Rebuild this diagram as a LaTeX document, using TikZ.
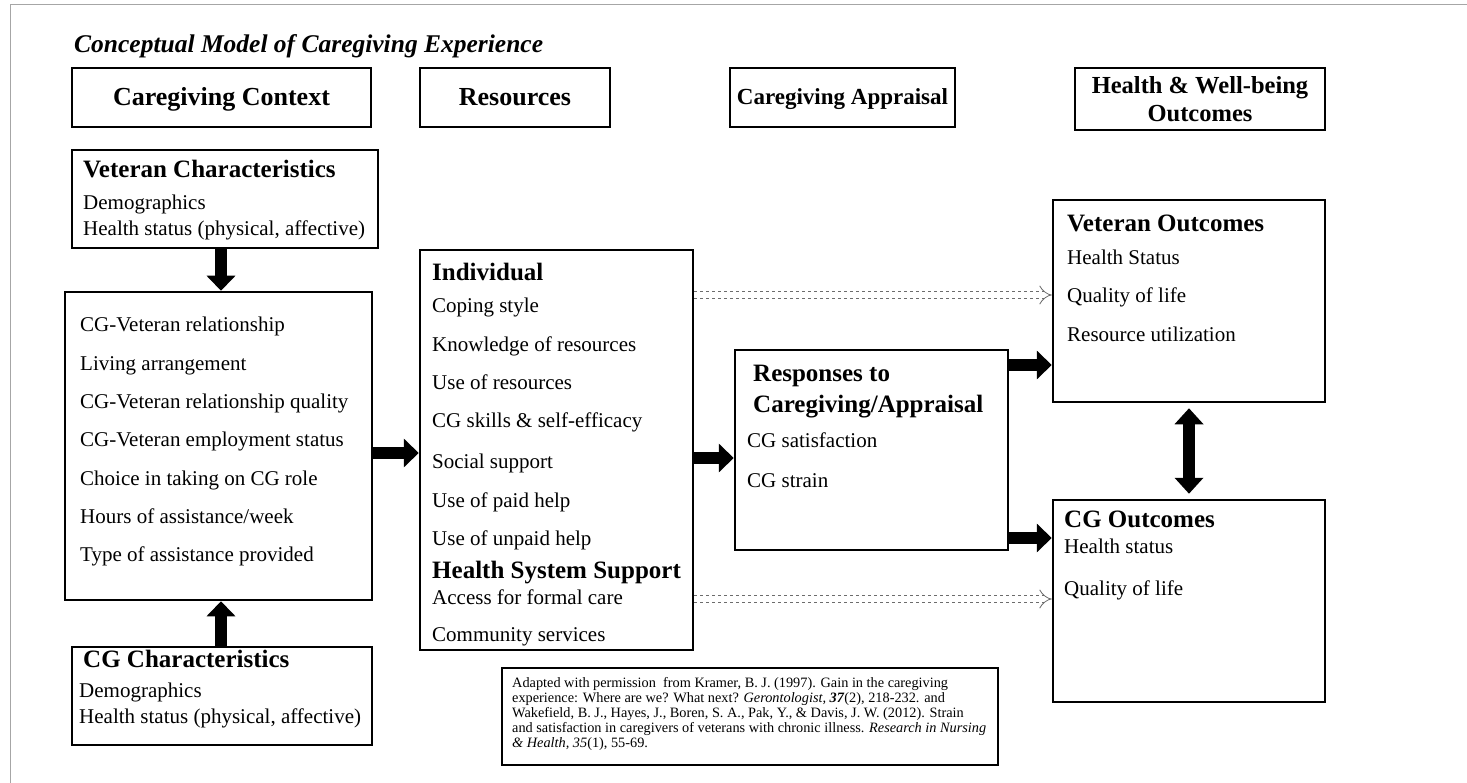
\documentclass[tikz,border=0pt]{standalone}
\usepackage{fontspec}
\setmainfont{Liberation Serif}
\usetikzlibrary{arrows.meta,positioning}

\begin{document}
\begin{tikzpicture}[x=1pt,y=-1pt,
  box/.style={draw,line width=2.5pt,inner sep=0pt},
  hdr/.style={box,font=\fontsize{26}{29}\selectfont\bfseries,align=center},
  sub/.style={anchor=west,inner sep=0pt,text height=17pt,text depth=5pt,
    font=\fontsize{25}{28}\selectfont\bfseries},
  item/.style={anchor=west,inner sep=0pt,text height=14pt,text depth=4pt,
    font=\fontsize{21}{24}\selectfont},
  blk/.style={line width=12pt,-{Triangle[width=28pt,length=15pt]}},
  dblk/.style={line width=12pt,{Triangle[width=28pt,length=16pt]}-{Triangle[width=28pt,length=16pt]}},
  dsh/.style={gray!85!black,dashed,double,double distance=6pt,line width=0.8pt,-{Implies}}]
  \useasboundingbox (0,0) rectangle (1467,783);
  \draw[gray!70,line width=1pt] (10,783) -- (10,5) -- (1467,5);
  \node[anchor=west,inner sep=0pt,font=\fontsize{25.5}{28}\selectfont\bfseries\itshape] (title)
    at (74,46) {Conceptual Model of Caregiving Experience};
  % column headers
  \node[hdr,minimum width=299pt,minimum height=59pt,text depth=2pt] (hctx) at (221.5,97.5) {Caregiving Context};
  \node[hdr,minimum width=190pt,minimum height=59pt,text depth=2pt] (hres) at (515,97.5) {Resources};
  \node[hdr,minimum width=225pt,minimum height=59pt,text depth=2pt,font=\fontsize{23}{26}\selectfont\bfseries] (happ)
    at (842.5,97.5) {Caregiving Appraisal};
  \node[hdr,minimum width=250pt,minimum height=62pt,font=\fontsize{24.5}{28}\selectfont\bfseries] (hout)
    at (1200,99) {Health \& Well-being\\Outcomes};
  % caregiving context
  \node[box,minimum width=306pt,minimum height=98pt] (vchar) at (225,199) {};
  \node[sub] (vcharT) at (83,172) {Veteran Characteristics};
  \node[item] (vchar1) at (83,205) {Demographics};
  \node[item] (vchar2) at (83,231) {Health status (physical, affective)};
  \node[box,minimum width=307pt,minimum height=308pt] (ctx) at (218.5,446) {};
  \foreach \t [count=\i] in {CG-Veteran relationship,Living arrangement,
      CG-Veteran relationship quality,CG-Veteran employment  status,
      Choice in taking on CG role,Hours of assistance/week,Type of assistance provided}
    \node[item] (ctx\i) at (80,{327+38.3*(\i-1)}) {\t};
  \node[box,minimum width=300pt,minimum height=98pt] (cgchar) at (222,696) {};
  \node[sub] (cgcharT) at (83,661) {CG Characteristics};
  \node[item] (cgchar1) at (79,692) {Demographics};
  \node[item] (cgchar2) at (79,718) {Health status (physical, affective)};
  % resources
  \node[box,minimum width=273pt,minimum height=400pt] (res) at (556.5,450) {};
  \node[sub] (resA) at (432,275) {Individual};
  \foreach \t/\y [count=\i] in {Coping style/308,Knowledge of resources/347,Use of resources/385,
      CG skills \& self-efficacy/423,Social support/463,Use of paid help/502,Use of unpaid help/540}
    \node[item] (resA\i) at (432,\y) {\t};
  \node[sub] (resB) at (432,572) {Health System Support};
  \node[item] (resB1) at (432,599) {Access for formal care};
  \node[item] (resB2) at (432,636) {Community  services};
  % appraisal
  \node[box,minimum width=273pt,minimum height=200pt] (resp) at (871.5,450) {};
  \node[sub] (respT) at (753,376) {Responses to};
  \node[sub] (respT2) at (753,406) {Caregiving/Appraisal};
  \node[item] (resp1) at (747,442) {CG satisfaction};
  \node[item] (resp2) at (747,482) {CG strain};
  % outcomes
  \node[box,minimum width=272pt,minimum height=202pt] (vout) at (1189,301) {};
  \node[sub] (voutT) at (1067,226) {Veteran Outcomes};
  \node[item] (vout1) at (1067,260) {Health Status};
  \node[item] (vout2) at (1067,298) {Quality of life};
  \node[item] (vout3) at (1067,337) {Resource utilization};
  \node[box,minimum width=272pt,minimum height=202pt] (cgout) at (1189,601) {};
  \node[sub] (cgoutT) at (1064,521) {CG Outcomes};
  \node[item] (cgout1) at (1064,548) {Health status};
  \node[item] (cgout2) at (1064,590) {Quality of life};
  % source
  \node[box,minimum width=496pt,minimum height=97pt] (cite) at (750,716.5) {};
  \node[anchor=north west,inner sep=0pt,align=left,font=\fontsize{14.3}{15}\selectfont] (citeT)
    at (512,677) {Adapted with permission\ \ from Kramer, B. J. (1997). Gain in the caregiving\\
    experience: Where are we? What next? \textit{Gerontologist, \textbf{37}}(2), 218-232. and\\
    Wakefield, B. J., Hayes, J., Boren, S. A., Pak, Y., \& Davis, J. W. (2012). Strain\\
    and satisfaction in caregivers of veterans with chronic illness. \textit{Research in Nursing}\\
    \textit{\& Health, 35}(1), 55-69.};
  % arrows
  \draw[blk] (vchar.south -| 221,0) -- (ctx.north -| 221,0);
  \draw[blk] (cgchar.north -| 221,0) -- (ctx.south -| 221,0);
  \draw[blk] ([yshift=-7pt]ctx.east) -- ([yshift=-7pt]ctx.east -| res.west);
  \draw[blk] ([yshift=-8pt]res.east) -- ([yshift=-8pt]res.east -| resp.west);
  \draw[blk] ([yshift=85pt]resp.east) -- ([yshift=85pt]resp.east -| vout.west);
  \draw[blk] ([yshift=-88pt]resp.east) -- ([yshift=-88pt]resp.east -| cgout.west);
  \draw[dblk,shorten <=5pt,shorten >=5pt] (vout.south) -- (cgout.north);
  \draw[dsh] ([yshift=155pt]res.east) -- ([yshift=155pt]res.east -| vout.west);
  \draw[dsh] ([yshift=-149pt]res.east) -- ([yshift=-149pt]res.east -| cgout.west);
\end{tikzpicture}
\end{document}
